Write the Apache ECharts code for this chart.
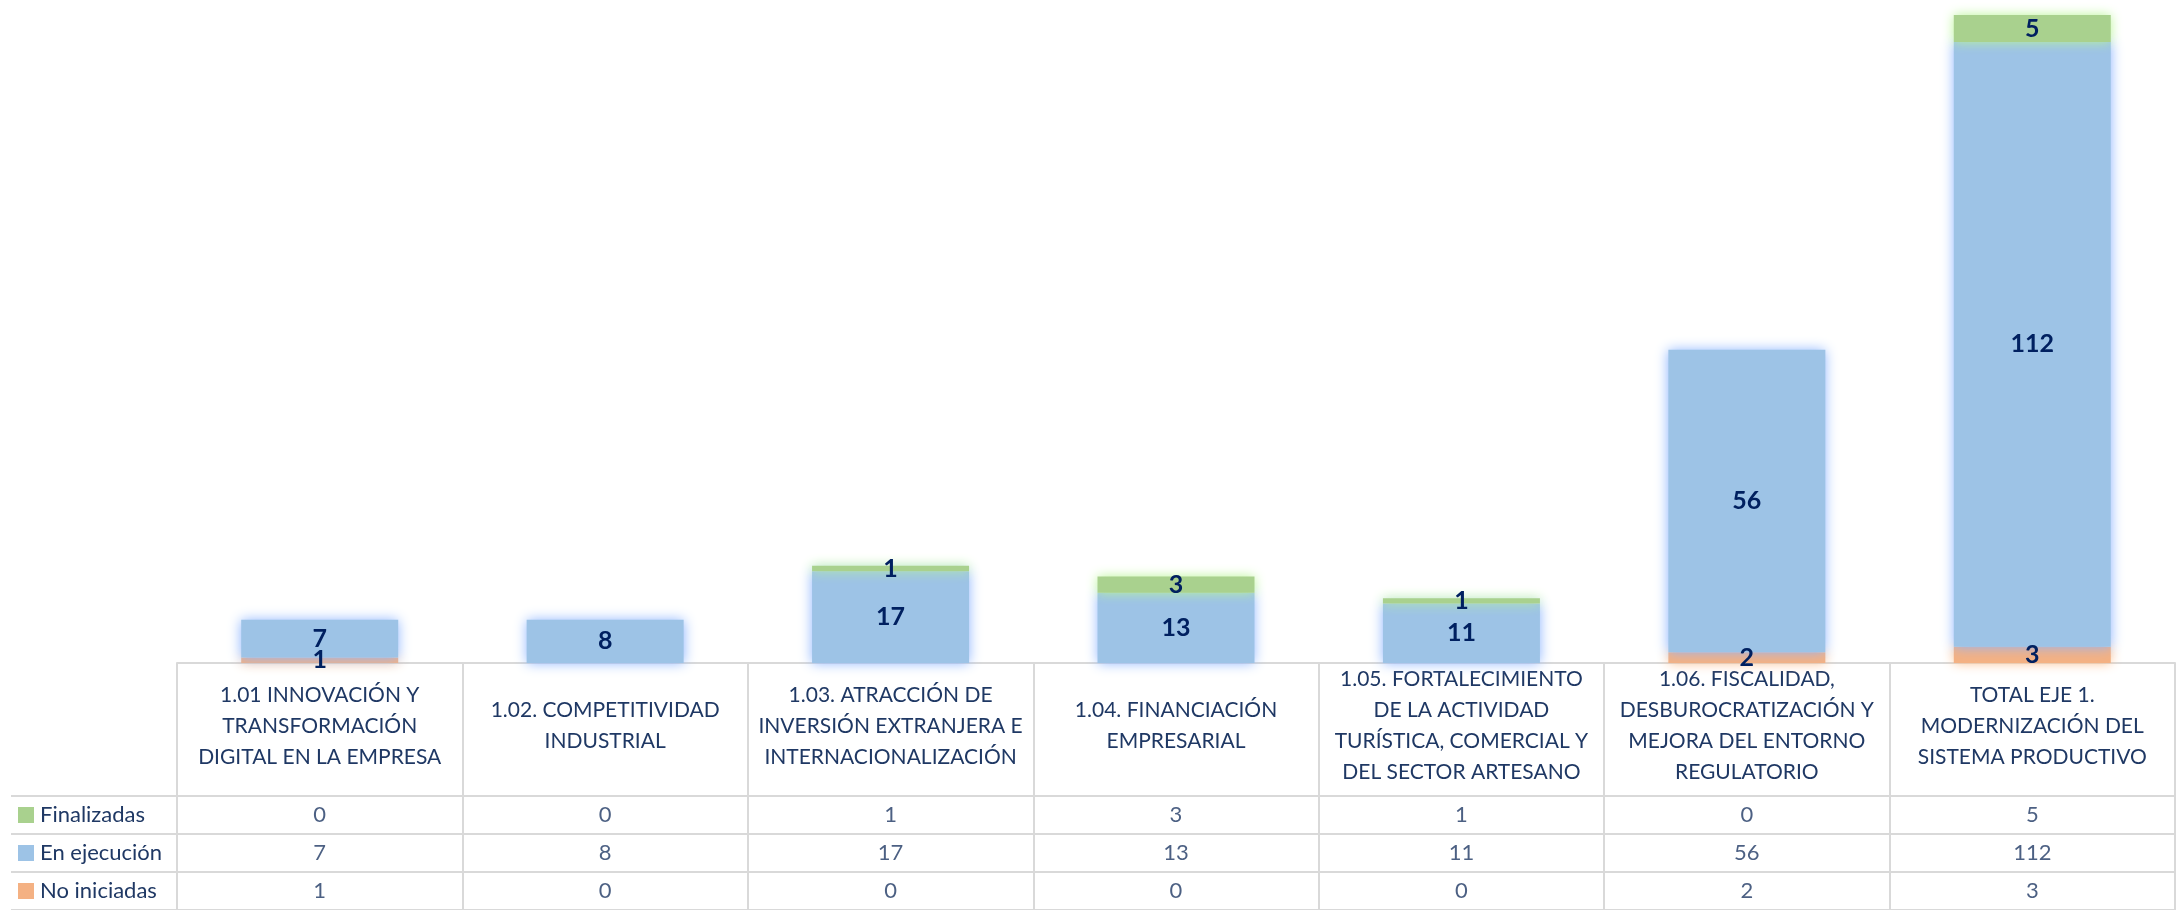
<!DOCTYPE html>
<html>
<head>
<meta charset="utf-8">
<script src="https://cdn.jsdelivr.net/npm/echarts@6/dist/echarts.min.js"></script>
<style>
html,body{margin:0;padding:0;background:#fff;}
#main{width:2183px;height:910px;}
</style>
</head>
<body>
<div id="main"></div>
<script>
//categorías (texto del encabezado de la tabla)
var categorias = [
	'1.01 INNOVACIÓN Y\nTRANSFORMACIÓN\nDIGITAL EN LA EMPRESA',
	'1.02. COMPETITIVIDAD\nINDUSTRIAL',
	'1.03. ATRACCIÓN DE\nINVERSIÓN EXTRANJERA E\nINTERNACIONALIZACIÓN',
	'1.04. FINANCIACIÓN\nEMPRESARIAL',
	'1.05. FORTALECIMIENTO\nDE LA ACTIVIDAD\nTURÍSTICA, COMERCIAL Y\nDEL SECTOR ARTESANO',
	'1.06. FISCALIDAD,\nDESBUROCRATIZACIÓN Y\nMEJORA DEL ENTORNO\nREGULATORIO',
	'TOTAL EJE 1.\nMODERNIZACIÓN DEL\nSISTEMA PRODUCTIVO'
];
var filas = ['Finalizadas','En ejecución','No iniciadas'];
var finalizadas = [0,0,1,3,1,0,5];
var enEjecucion = [7,8,17,13,11,56,112];
var noIniciadas = [1,0,0,0,0,2,3];

var colores = {verde:'#A9D18E',azul:'#9DC3E6',naranja:'#F4B183'};
var txt = '#1F3864';
var fuente = 'Lato';
var linea = {color:'#D9D9D9',width:2};

//valores de la tabla
function celdas(){
	var arr = [];
	var series = [finalizadas,enEjecucion,noIniciadas];
	for(var f=0;f<series.length;f++){
		for(var i=0;i<categorias.length;i++){
			arr.push([i,f,series[f][i]]);
		}
	}
	return arr;
}

function barLabel(){
	return {
		show:true,
		position:'inside',
		color:'#002060',
		fontWeight:'bold',
		fontSize:25,
		fontFamily:fuente,
		formatter:function(p){ return p.value == 0 ? '' : p.value; }
	};
}

var myChart = echarts.init(document.getElementById('main'));
var option = {
	animation:false,
	textStyle:{fontFamily:fuente},
	grid:[
		{left:177,right:8,top:15,bottom:247},
		{left:177,right:8,top:796,bottom:0}
	],
	xAxis:[{
		gridIndex:0,
		type:'category',
		data:categorias,
		axisLine:{lineStyle:linea},
		axisTick:{show:true,length:247,lineStyle:linea},
		axisLabel:{
			interval:0,
			margin:63,
			verticalAlign:'middle',
			lineHeight:31,
			fontSize:21,
			color:txt,
			fontFamily:fuente
		},
		splitLine:{show:false}
	},{
		gridIndex:1,
		type:'category',
		data:categorias,
		axisLine:{show:false},
		axisTick:{show:false},
		axisLabel:{show:false},
		splitLine:{show:false}
	}],
	yAxis:[{
		gridIndex:0,
		type:'value',
		min:0,
		max:120,
		show:false
	},{
		gridIndex:1,
		type:'category',
		inverse:true,
		data:filas,
		axisLine:{show:false},
		axisTick:{show:true,length:166,lineStyle:linea},
		splitLine:{show:true,lineStyle:linea},
		axisLabel:{
			margin:159,
			align:'left',
			fontSize:22,
			color:txt,
			fontFamily:fuente,
			formatter:function(v,i){
				var k = ['v','a','n'][i];
				return '{' + k + '|}{t|' + v + '}';
			},
			rich:{
				v:{width:16,height:16,backgroundColor:colores.verde},
				a:{width:16,height:16,backgroundColor:colores.azul},
				n:{width:16,height:16,backgroundColor:colores.naranja},
				t:{fontSize:22,color:txt,fontFamily:fuente,padding:[0,0,0,6]}
			}
		}
	},{
		gridIndex:1,
		type:'category',
		inverse:true,
		data:filas,
		offset:166,
		axisLine:{show:true,lineStyle:linea},
		axisTick:{show:false},
		axisLabel:{show:false},
		splitLine:{show:false}
	}],
	series:[{
		name:'No iniciadas',
		type:'bar',
		stack:'total',
		barWidth:'55%',
		data:noIniciadas,
		itemStyle:{color:colores.naranja,shadowBlur:12,shadowColor:'rgba(252,190,140,1)'},
		label:barLabel()
	},{
		name:'En ejecución',
		type:'bar',
		stack:'total',
		barWidth:'55%',
		data:enEjecucion,
		itemStyle:{color:colores.azul,shadowBlur:12,shadowColor:'rgba(140,180,255,1)'},
		label:barLabel()
	},{
		name:'Finalizadas',
		type:'bar',
		stack:'total',
		barWidth:'55%',
		data:finalizadas,
		itemStyle:{color:colores.verde,shadowBlur:12,shadowColor:'rgba(185,245,150,1)'},
		label:barLabel()
	},{
		name:'tabla',
		type:'scatter',
		xAxisIndex:1,
		yAxisIndex:1,
		symbolSize:1,
		itemStyle:{color:'transparent'},
		data:celdas(),
		label:{
			show:true,
			position:'inside',
			fontSize:22,
			color:txt,
			fontFamily:fuente,
			formatter:function(p){ return p.value[2]; }
		}
	}]
};
myChart.setOption(option);
</script>
</body>
</html>
